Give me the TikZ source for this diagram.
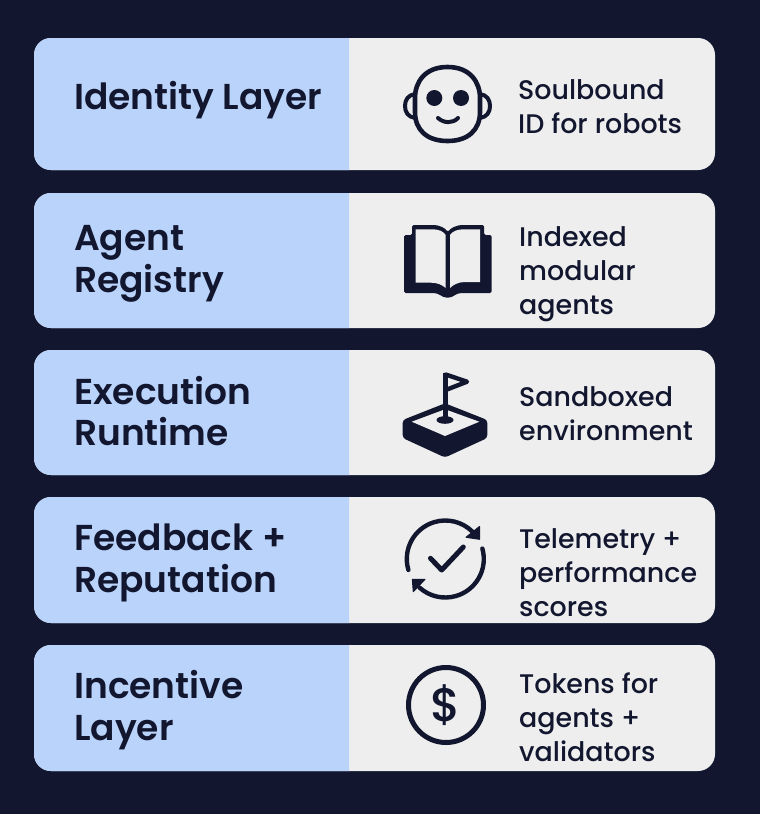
\documentclass[tikz,border=0pt]{standalone}
\usepackage{fontspec}
\setmainfont{Poppins}
\newfontfamily\hdfont{Poppins SemiBold}
\newfontfamily\txfont{Poppins Medium}
\definecolor{bg}{HTML}{12172F}
\definecolor{ink}{HTML}{12172F}
\definecolor{pblue}{HTML}{BAD3FB}
\definecolor{pgrey}{HTML}{EEEEEE}
\tikzset{
  head/.style={anchor=west,align=left,inner sep=0pt,text=ink,font=\hdfont\fontsize{36}{41.5}\selectfont},
  desc/.style={anchor=west,align=left,inner sep=0pt,text=ink,font=\txfont\fontsize{26.9}{34}\selectfont},
  icon/.style={draw=ink,line width=4.6pt,line cap=round,line join=round},
  page/.style={fill=pgrey}
}
\newcommand{\panelrow}[2]{%
  \fill[pgrey,rounded corners=17pt] (34,#1) rectangle (715,#2);
  \fill[pblue] (349,#1) {[rounded corners=17pt] -- (34,#1) -- (34,#2)} -- (349,#2) -- cycle;
}
\begin{document}
\begin{tikzpicture}[x=1pt,y=-1pt]
\useasboundingbox (0,0) rectangle (760,814);
\fill[bg] (0,0) rectangle (760,814);
\panelrow{38}{170}
\panelrow{193}{328}
\panelrow{350}{475}
\panelrow{497}{623}
\panelrow{645}{771}
% headings
\node[head] (h1) at (74,100) {Identity Layer};
\node[head] (h2) at (74,264) {Agent\\Registry};
\node[head] (h3) at (74,411) {Execution\\Runtime};
\node[head] (h4) at (74,563) {Feedback +\\Reputation};
\node[head] (h5) at (74,710) {Incentive\\Layer};
% descriptions
\node[desc] (d1) at (518,107) {Soulbound\\ID for robots};
\node[desc] (d2) at (519,274) {Indexed\\modular\\agents};
\node[desc] (d3) at (519,414) {Sandboxed\\environment};
\node[desc] (d4) at (519,573) {Telemetry +\\performance\\scores};
\node[desc] (d5) at (519,717) {Tokens for\\agents +\\validators};
% face icon
\draw[icon] (447.5,67) .. controls (470,67) and (480,82) .. (480,98)
  -- (480,112) .. controls (480,130) and (468,141) .. (447.5,141)
  .. controls (427,141) and (415,130) .. (415,112) -- (415,98)
  .. controls (415,82) and (425,67) .. (447.5,67) -- cycle;
\draw[icon,line width=4pt] (415,94) .. controls (408,95) and (405,100) .. (405,106) .. controls (405,112) and (408,117) .. (415,118);
\draw[icon,line width=4pt] (480,94) .. controls (487,95) and (490,100) .. (490,106) .. controls (490,112) and (487,117) .. (480,118);
\fill[ink] (434.3,98) circle[radius=8pt];
\fill[ink] (461,98) circle[radius=8pt];
\draw[icon,line width=4pt] (438,118) .. controls (444,123.5) and (453,123.5) .. (458,118);
% book icon
\fill[ink,rounded corners=1.5pt] (404,235) -- (412,235) -- (412,225) -- (431,225)
  .. controls (440,225) and (445,228) .. (447.7,232)
  .. controls (451,228) and (456,225) .. (465,225)
  -- (484,225) -- (484,235) -- (491.7,235) -- (491.7,293) -- (463,293)
  .. controls (456,293) and (453,297.5) .. (447.7,297.5)
  .. controls (442,297.5) and (439,293) .. (432,293) -- (404,293) -- cycle;
\fill[pgrey] (415.7,229.3) -- (431,229.3) .. controls (439,229.3) and (443,231) .. (445.7,235)
  -- (445.7,288) .. controls (442,285) and (438,282.7) .. (431,282.7) -- (415.7,282.7) -- cycle;
\fill[pgrey] (480,229.3) -- (465,229.3) .. controls (457,229.3) and (453,231) .. (450,235)
  -- (450,288) .. controls (453,285) and (458,282) .. (465,282) -- (480,282) -- cycle;
% flag-on-block icon
\fill[ink,rounded corners=3pt] (445,403.3) -- (487.3,420) -- (487.3,438) -- (445,457.5) -- (402.7,438) -- (402.7,420) -- cycle;
\fill[pgrey] (445,409.3) -- (479.3,421.7) -- (445,436) -- (411.7,421.7) -- cycle;
\draw[icon,line width=5pt,line cap=butt] (445.7,373) -- (445.7,420);
\fill[ink] (445,420) ellipse[x radius=8.5pt,y radius=3.8pt];
\draw[icon,fill=pgrey,line width=4.4pt] (445.7,374.5) -- (467,381.7) -- (445.7,390) -- cycle;
% feedback cycle icon
\coordinate (cyc) at (445.3,559);
\draw[icon,line width=4.4pt,line cap=round] (cyc) ++(196.5:38.5pt) arc[start angle=196.5,end angle=45,radius=38.5pt];
\draw[icon,line width=4.4pt,line cap=round] (cyc) ++(15.7:38.5pt) arc[start angle=15.7,end angle=-132,radius=38.5pt];
\fill[ink,draw=ink,line width=1pt,line join=round] (479.5,526.5) -- (479.5,539.3) -- (466,537.3) -- cycle;
\fill[ink,draw=ink,line width=1pt,line join=round] (412.3,579.3) -- (425,579.3) -- (413.3,591.7) -- cycle;
\draw[icon,line width=5pt] (430.5,558.3) -- (441.7,570) -- (463.3,547);
% dollar icon
\draw[icon,line width=5pt] (446,705) circle[radius=37.5pt];
\node[inner sep=0pt,text=ink,font=\txfont\fontsize{47}{47}\selectfont] (dollar) at (446,705) {\$};
\end{tikzpicture}
\end{document}
